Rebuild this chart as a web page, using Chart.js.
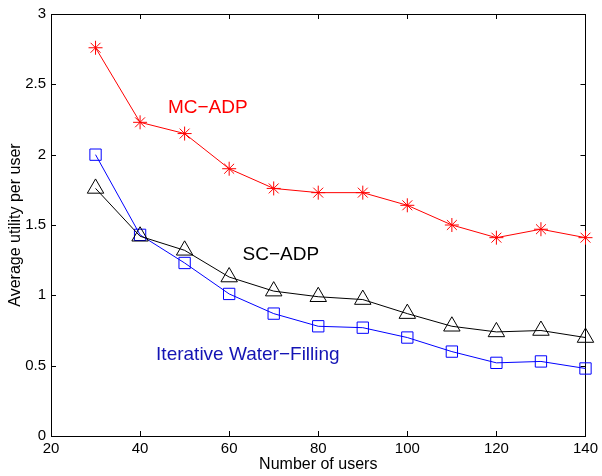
<!DOCTYPE html>
<html>
<head>
<meta charset="utf-8">
<script src="https://cdn.jsdelivr.net/npm/chart.js@4.4.0/dist/chart.umd.min.js"></script>
<style>
  html, body { margin: 0; padding: 0; background: #fff; }
</style>
</head>
<body>
<canvas id="grafico" width="602" height="476"></canvas>
<script>
const users = [30, 40, 50, 60, 70, 80, 90, 100, 110, 120, 130, 140];
const mcAdp = [2.76, 2.23, 2.15, 1.90, 1.76, 1.73, 1.73, 1.64, 1.50, 1.41, 1.47, 1.41];
const scAdp = [1.76, 1.42, 1.32, 1.13, 1.03, 0.99, 0.97, 0.87, 0.78, 0.74, 0.75, 0.70];
const waterFilling = [2.00, 1.43, 1.23, 1.01, 0.87, 0.78, 0.77, 0.70, 0.60, 0.52, 0.53, 0.48];
const xTicks = [20, 40, 60, 80, 100, 120, 140];
const yTicks = [0, 0.5, 1, 1.5, 2, 2.5, 3];

// text labels placed in data coordinates, like MATLAB text()
const labels = [
  {text: 'MC\u2212ADP', x: 55.2, y: 2.33, color: '#ff0000'},
  {text: 'SC\u2212ADP', x: 71.6, y: 1.29, color: '#000000'},
  {text: 'Iterative Water\u2212Filling', x: 64.2, y: 0.58, color: '#1414b4'}
];

const toPoints = vals => vals.map((v, i) => ({x: users[i], y: v}));

// box around the axes with ticks pointing inward
const boxTicks = {
  id: 'boxTicks',
  beforeDatasetsDraw(chart) {
    const {ctx, chartArea: a, scales: {x, y}} = chart;
    const len = 5;
    ctx.save();
    ctx.strokeStyle = '#000';
    ctx.lineWidth = 1;
    ctx.strokeRect(Math.round(a.left) + 0.5, Math.round(a.top) + 0.5,
      Math.round(a.right - a.left), Math.round(a.bottom - a.top));
    ctx.beginPath();
    xTicks.forEach(t => {
      const px = Math.round(x.getPixelForValue(t)) + 0.5;
      ctx.moveTo(px, a.bottom); ctx.lineTo(px, a.bottom - len);
      ctx.moveTo(px, a.top); ctx.lineTo(px, a.top + len);
    });
    yTicks.forEach(t => {
      const py = Math.round(y.getPixelForValue(t)) + 0.5;
      ctx.moveTo(a.left, py); ctx.lineTo(a.left + len, py);
      ctx.moveTo(a.right, py); ctx.lineTo(a.right - len, py);
    });
    ctx.stroke();
    ctx.restore();
  },
  afterDraw(chart) {
    const {ctx, scales: {x, y}} = chart;
    ctx.save();
    ctx.font = '19px "Liberation Sans", Arial, sans-serif';
    ctx.textAlign = 'center';
    ctx.textBaseline = 'middle';
    labels.forEach(l => {
      ctx.fillStyle = l.color;
      ctx.fillText(l.text, x.getPixelForValue(l.x), y.getPixelForValue(l.y));
    });
    ctx.restore();
  }
};

const font = {family: '"Liberation Sans", Arial, sans-serif', size: 15};

const config = {
  type: 'line',
  data: {
    datasets: [
      {
        label: 'MC-ADP',
        data: toPoints(mcAdp),
        borderColor: '#ff0000',
        backgroundColor: 'transparent',
        borderWidth: 1,
        pointStyle: 'star',
        pointRadius: 7,
        pointBorderWidth: 1,
        pointBorderColor: '#ff0000',
        clip: false
      },
      {
        label: 'SC-ADP',
        data: toPoints(scAdp),
        borderColor: '#000000',
        backgroundColor: 'transparent',
        borderWidth: 1,
        pointStyle: 'triangle',
        pointRadius: 9.5,
        pointBorderWidth: 1,
        pointBorderColor: '#000000',
        clip: false
      },
      {
        label: 'Iterative Water-Filling',
        data: toPoints(waterFilling),
        borderColor: '#0000ff',
        backgroundColor: 'transparent',
        borderWidth: 1,
        pointStyle: 'rect',
        pointRadius: 8,
        pointBorderWidth: 1,
        pointBorderColor: '#0000ff',
        clip: false
      }
    ]
  },
  options: {
    responsive: false,
    animation: false,
    layout: {padding: {top: 14, right: 16, left: 0, bottom: 0}},
    plugins: {
      legend: {display: false},
      tooltip: {enabled: false}
    },
    elements: {line: {tension: 0}},
    scales: {
      x: {
        type: 'linear',
        min: 20,
        max: 140,
        afterBuildTicks: s => { s.ticks = xTicks.map(v => ({value: v})); },
        afterFit: s => { s.height = 40; },
        grid: {display: false, drawTicks: false},
        border: {display: false},
        ticks: {color: '#000', font: font, padding: 4, maxRotation: 0, callback: v => String(v)},
        title: {
          display: true,
          text: 'Number of users',
          color: '#000',
          font: {family: font.family, size: 16},
          padding: {top: 0, bottom: 2}
        }
      },
      y: {
        type: 'linear',
        min: 0,
        max: 3,
        afterBuildTicks: s => { s.ticks = yTicks.map(v => ({value: v})); },
        afterFit: s => { s.width = 51; },
        grid: {display: false, drawTicks: false},
        border: {display: false},
        ticks: {color: '#000', font: font, padding: 5, callback: v => String(v)},
        title: {
          display: true,
          text: 'Average utility per user',
          color: '#000',
          font: {family: font.family, size: 16},
          padding: {top: 6, bottom: 0}
        }
      }
    }
  },
  plugins: [boxTicks]
};

const myChart = new Chart(document.getElementById('grafico'), config);
</script>
</body>
</html>
